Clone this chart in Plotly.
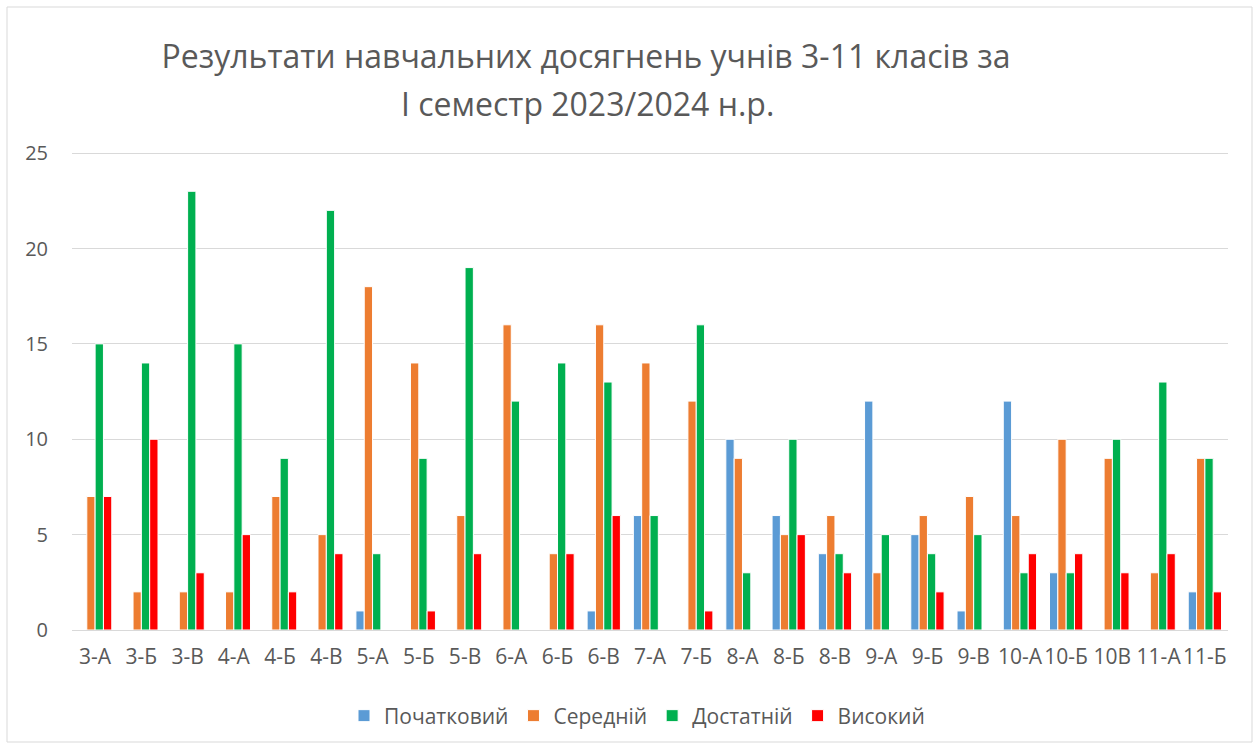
import plotly.graph_objects as go

classes = ["3-А", "3-Б", "3-В", "4-А", "4-Б", "4-В", "5-А", "5-Б", "5-В", "6-А",
           "6-Б", "6-В", "7-А", "7-Б", "8-А", "8-Б", "8-В", "9-А", "9-Б", "9-В",
           "10-А", "10-Б", "10В", "11-А", "11-Б"]
pochatkovyi = [0, 0, 0, 0, 0, 0, 1, 0, 0, 0, 0, 1, 6, 0, 10, 6, 4, 12, 5, 1, 12, 3, 0, 0, 2]
serednii = [7, 2, 2, 2, 7, 5, 18, 14, 6, 16, 4, 16, 14, 12, 9, 5, 6, 3, 6, 7, 6, 10, 9, 3, 9]
dostatnii = [15, 14, 23, 15, 9, 22, 4, 9, 19, 12, 14, 13, 6, 16, 3, 10, 4, 5, 4, 5, 3, 3, 10, 13, 9]
vysokyi = [7, 10, 3, 5, 2, 4, 0, 1, 4, 0, 4, 6, 0, 1, 0, 5, 3, 0, 2, 0, 4, 4, 3, 4, 2]

series = [
    ("Початковий", pochatkovyi, "#5B9BD5"),
    ("Середній", serednii, "#ED7D31"),
    ("Достатній", dostatnii, "#00B050"),
    ("Високий", vysokyi, "#FF0000"),
]

title_line1 = "Результати навчальних досягнень учнів 3-11 класів за"
title_line2 = "І семестр 2023/2024 н.р."

FONT = "Open Sans"
GRAY = "#595959"
GRID = "#D9D9D9"

fig = go.Figure()
for name, vals, color in series:
    fig.add_trace(go.Bar(
        x=classes, y=vals, name=name,
        marker=dict(color=color, line=dict(color="white", width=1)),
    ))

W, H = 1258, 749
L, R, T, B = 72, 30, 152, 119
pw, ph = W - L - R, H - T - B

def px_x(x):
    return (x - L) / pw

def px_y(y):
    return (H - B - y) / ph

fig.update_layout(
    width=W, height=H,
    margin=dict(l=L, r=R, t=T, b=B),
    paper_bgcolor="white", plot_bgcolor="white",
    font=dict(family=FONT, color=GRAY, size=16),
    barmode="group", bargap=0.28, bargroupgap=0.0,
    title=dict(
        text=title_line1,
        x=586 / W, xanchor="center", xref="container",
        y=1 - 57 / H, yanchor="middle", yref="container",
        font=dict(family=FONT, size=32, color=GRAY),
    ),
    annotations=[dict(
        text=title_line2, showarrow=False,
        xref="paper", yref="paper", x=px_x(587), y=px_y(103),
        xanchor="center", yanchor="middle",
        font=dict(family=FONT, size=32, color=GRAY),
    )],
    xaxis=dict(
        showgrid=False, showline=False, ticks="", tickangle=0,
        tickfont=dict(size=21, color=GRAY), ticklabelstandoff=12,
        range=[-0.5, len(classes) - 0.5],
    ),
    yaxis=dict(
        range=[0, 25.06], tick0=0, dtick=5, showgrid=True, gridcolor=GRID, gridwidth=1,
        zeroline=True, zerolinecolor=GRID, zerolinewidth=1,
        showline=False, ticks="", tickfont=dict(size=20, color=GRAY),
        ticklabelstandoff=23,
    ),
    legend=dict(
        orientation="h", x=px_x(637), xanchor="center",
        y=px_y(716), yanchor="middle",
        font=dict(size=21, color=GRAY), itemwidth=30, tracegroupgap=0,
    ),
    shapes=[dict(
        type="rect", xref="paper", yref="paper",
        x0=px_x(7), x1=px_x(1252), y0=px_y(742), y1=px_y(7),
        line=dict(color=GRID, width=1), fillcolor="rgba(0,0,0,0)", layer="below",
    )],
)

fig.write_html(
    "out.html",
    config={"displayModeBar": False},
    post_script="document.body.style.margin='0';document.body.style.overflow='hidden';",
)
